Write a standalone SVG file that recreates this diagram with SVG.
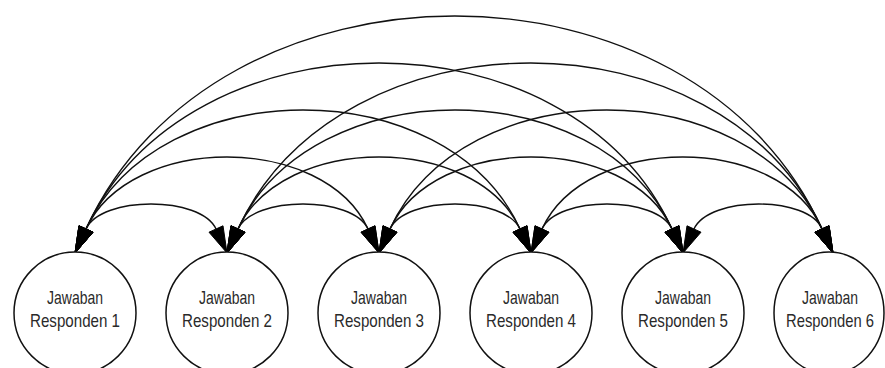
<svg xmlns="http://www.w3.org/2000/svg" width="885" height="368" viewBox="0 0 885 368">
<style>
.node circle,.node ellipse{fill:#fff;stroke:#111;stroke-width:1.5}
.node text{font-family:"Liberation Sans",Arial,sans-serif;font-size:19px;fill:#2a2a2a;text-anchor:middle}
.edges path{fill:none;stroke:#111;stroke-width:1.4;marker-start:url(#hl);marker-end:url(#hr)}
</style>
<defs>
<marker id="hl" markerUnits="userSpaceOnUse" viewBox="-20 -10 40 40" markerWidth="40" markerHeight="40" refX="0" refY="0" orient="0">
<path d="M7,3.2 L-11,24 L-7,-3.2 Z" fill="#000" stroke="#000" stroke-width="1"/>
</marker>
<marker id="hr" markerUnits="userSpaceOnUse" viewBox="-20 -10 40 40" markerWidth="40" markerHeight="40" refX="0" refY="0" orient="0">
<path d="M-7,3.2 L11,24 L7,-3.2 Z" fill="#000" stroke="#000" stroke-width="1"/>
</marker>
</defs>
<g class="edges" id="connectors">
<path d="M86,229 C101.3,195.7 200.7,195.7 216,229"/>
<path d="M238,229 C253.3,195.7 352.7,195.7 368,229"/>
<path d="M390,229 C405.3,195.7 504.7,195.7 520,229"/>
<path d="M542,229 C557.3,195.7 656.7,195.7 672,229"/>
<path d="M694,229 C709.3,195.7 808.7,195.7 822,229"/>
<path d="M86,229 C130.2,133 323.8,133 368,229"/>
<path d="M238,229 C282.2,133 475.8,133 520,229"/>
<path d="M390,229 C434.2,133 627.8,133 672,229"/>
<path d="M542,229 C586.2,133 779.8,133 822,229"/>
<path d="M86,229 C159,70.3 447,70.3 520,229"/>
<path d="M238,229 C311,70.3 599,70.3 672,229"/>
<path d="M390,229 C463,70.3 751,70.3 822,229"/>
<path d="M86,229 C187.8,7.7 570.2,7.7 672,229"/>
<path d="M238,229 C339.8,7.7 722.2,7.7 822,229"/>
<path d="M86,229 C216.6,-55 693.4,-55 822,229"/>
</g>
<g class="node" id="node1"><circle cx="75" cy="313" r="61"/><text x="75" y="304" textLength="56" lengthAdjust="spacingAndGlyphs">Jawaban</text><text x="75" y="327" textLength="90" lengthAdjust="spacingAndGlyphs">Responden 1</text></g>
<g class="node" id="node2"><circle cx="227" cy="313" r="61"/><text x="227" y="304" textLength="56" lengthAdjust="spacingAndGlyphs">Jawaban</text><text x="227" y="327" textLength="90" lengthAdjust="spacingAndGlyphs">Responden 2</text></g>
<g class="node" id="node3"><circle cx="379" cy="313" r="61"/><text x="379" y="304" textLength="56" lengthAdjust="spacingAndGlyphs">Jawaban</text><text x="379" y="327" textLength="90" lengthAdjust="spacingAndGlyphs">Responden 3</text></g>
<g class="node" id="node4"><circle cx="531" cy="313" r="61"/><text x="531" y="304" textLength="56" lengthAdjust="spacingAndGlyphs">Jawaban</text><text x="531" y="327" textLength="90" lengthAdjust="spacingAndGlyphs">Responden 4</text></g>
<g class="node" id="node5"><circle cx="683" cy="313" r="61"/><text x="683" y="304" textLength="56" lengthAdjust="spacingAndGlyphs">Jawaban</text><text x="683" y="327" textLength="90" lengthAdjust="spacingAndGlyphs">Responden 5</text></g>
<g class="node" id="node6"><ellipse cx="829" cy="313" rx="55" ry="61"/><text x="830" y="304" textLength="56" lengthAdjust="spacingAndGlyphs">Jawaban</text><text x="830" y="327" textLength="88" lengthAdjust="spacingAndGlyphs">Responden 6</text></g>
</svg>
